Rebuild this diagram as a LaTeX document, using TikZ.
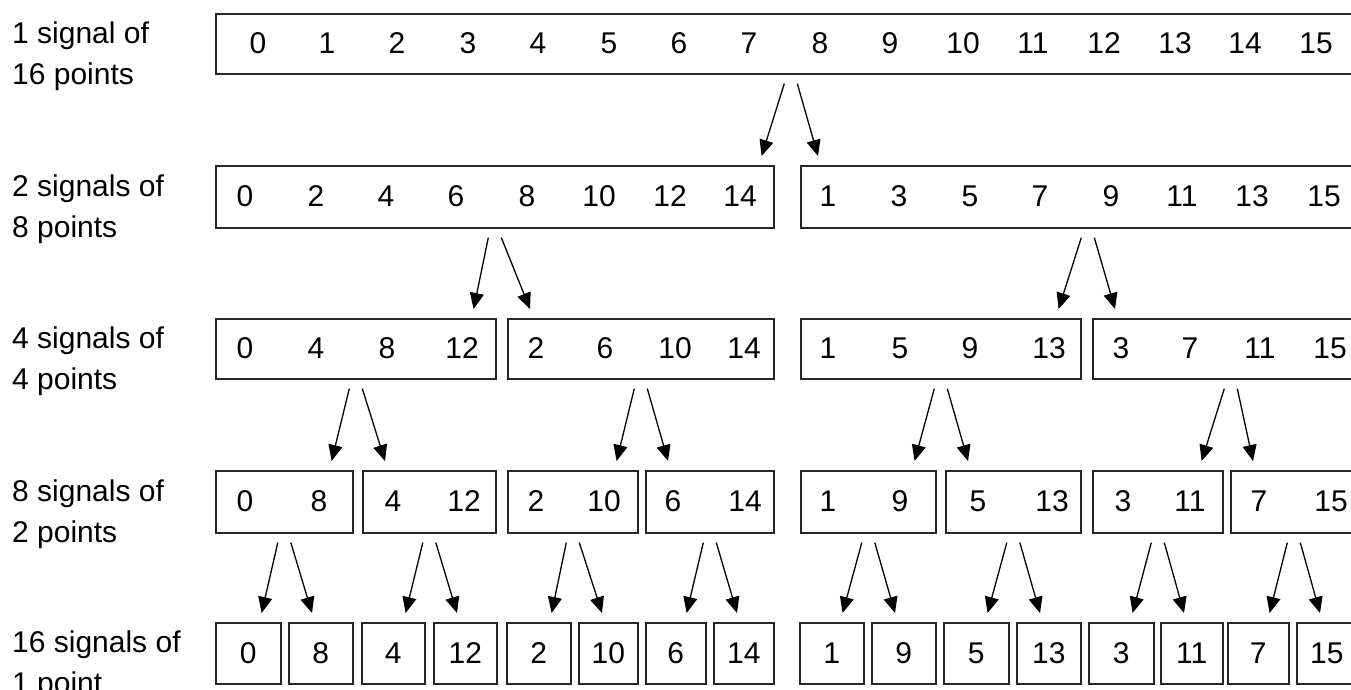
\documentclass[tikz,border=0pt]{standalone}
\usepackage{fontspec}
\setmainfont{Liberation Sans}
\usetikzlibrary{arrows.meta}
\tikzset{
  box/.style={draw=black!85, line width=1.6pt, rectangle, inner sep=0pt, font=\fontsize{30}{36}\selectfont},
  num/.style={inner sep=0pt, font=\fontsize{30}{36}\selectfont},
  lbl/.style={inner sep=0pt, anchor=west, align=left, font=\fontsize{30}{41}\selectfont},
  arr/.style={line width=1.3pt, -{Triangle[length=16pt,width=14pt]}}
}
\newcommand\bx[6]{\node[box,minimum width={#3-#2},minimum height=#5,anchor=north west] (#1) at (#2,#4) {#6};}
\newcommand\splitarr[5]{%
  \draw[arr] ([xshift=-6.5pt,yshift=-9pt]#1.south) -- ([xshift=-#4pt,yshift=9pt]#2.north east);
  \draw[arr] ([xshift=6.5pt,yshift=-9pt]#1.south) -- ([xshift=#5pt,yshift=9pt]#3.north west);}
\begin{document}
\begin{tikzpicture}[x=1pt,y=-1pt]
\useasboundingbox[fill=white] (0,0) rectangle (1351,690);
\clip (0,0) rectangle (1351,690);
% labels
\node[lbl] (l1) at (12,56) {1 signal of\\16 points};
\node[lbl] (l2) at (12,209) {2 signals of\\8 points};
\node[lbl] (l3) at (12,361) {4 signals of\\4 points};
\node[lbl] (l4) at (12,514) {8 signals of\\2 points};
\node[lbl] (l5) at (12,665) {16 signals of\\1 point};
% row 1
\bx{b1}{215}{1365}{13}{60}{}
\foreach \x/\v in {258/0,327/1,397/2,468/3,538/4,609/5,679/6,749/7,820/8,890/9,963/10,1033/11,1104/12,1175/13,1245/14,1316/15}
  \node[num] (r1n\v) at (\x,43) {\v};
% row 2
\bx{b2a}{215}{773}{165}{62}{}
\bx{b2b}{800}{1374}{165}{62}{}
\foreach \x/\v in {245/0,316/2,386/4,456/6,527/8,599/10,670/12,740/14,828/1,899/3,970/5,1040/7,1111/9,1182/11,1252/13,1324/15}
  \node[num] (r2n\v) at (\x,196) {\v};
% row 3
\bx{b3a}{215}{495}{318}{60}{}
\bx{b3b}{507}{773}{318}{60}{}
\bx{b3c}{800}{1080}{318}{60}{}
\bx{b3d}{1092}{1368}{318}{60}{}
\foreach \x/\v in {245/0,316/4,387/8,462/12,536/2,605/6,675/10,744/14,828/1,900/5,970/9,1049/13,1121/3,1190/7,1260/11,1330/15}
  \node[num] (r3n\v) at (\x,348) {\v};
% row 4
\bx{b4a}{215}{352}{470}{62}{}
\bx{b4b}{362}{495}{470}{62}{}
\bx{b4c}{507}{637}{470}{62}{}
\bx{b4d}{645}{773}{470}{62}{}
\bx{b4e}{800}{935}{470}{62}{}
\bx{b4f}{945}{1080}{470}{62}{}
\bx{b4g}{1092}{1222}{470}{62}{}
\bx{b4h}{1230}{1356}{470}{62}{}
\foreach \x/\v in {245/0,319/8,393/4,464/12,536/2,604/10,673/6,745/14,828/1,900/9,978/5,1052/13,1123/3,1190/11,1259/7,1331/15}
  \node[num] (r4n\v) at (\x,501) {\v};
% row 5
\bx{c0}{215}{280}{622}{61}{0}
\bx{c8}{288}{352}{622}{61}{8}
\bx{c4}{361}{424}{622}{61}{4}
\bx{c12}{433}{496}{622}{61}{12}
\bx{c2}{506}{570}{622}{61}{2}
\bx{c10}{578}{637}{622}{61}{10}
\bx{c6}{645}{705}{622}{61}{6}
\bx{c14}{713}{773}{622}{61}{14}
\bx{c1}{799}{863}{622}{61}{1}
\bx{c9}{871}{935}{622}{61}{9}
\bx{c5}{943}{1008}{622}{61}{5}
\bx{c13}{1016}{1080}{622}{61}{13}
\bx{c3}{1088}{1153}{622}{61}{3}
\bx{c11}{1160}{1222}{622}{61}{11}
\bx{c7}{1227}{1288}{622}{61}{7}
\bx{c15}{1296}{1360}{622}{61}{\hspace*{-4pt}15}
% arrows
\splitarr{b1}{b2a}{b2b}{13}{18}
\splitarr{b2a}{b3a}{b3b}{23}{23}
\splitarr{b2b}{b3c}{b3d}{23}{23}
\splitarr{b3a}{b4a}{b4b}{22}{23}
\splitarr{b3b}{b4c}{b4d}{22}{23}
\splitarr{b3c}{b4e}{b4f}{22}{23}
\splitarr{b3d}{b4g}{b4h}{22}{23}
\splitarr{b4a}{c0}{c8}{20}{24}
\splitarr{b4b}{c4}{c12}{20}{24}
\splitarr{b4c}{c2}{c10}{20}{24}
\splitarr{b4d}{c6}{c14}{20}{24}
\splitarr{b4e}{c1}{c9}{22}{24}
\splitarr{b4f}{c5}{c13}{22}{24}
\splitarr{b4g}{c3}{c11}{22}{24}
\splitarr{b4h}{c7}{c15}{20}{24}
\end{tikzpicture}
\end{document}
